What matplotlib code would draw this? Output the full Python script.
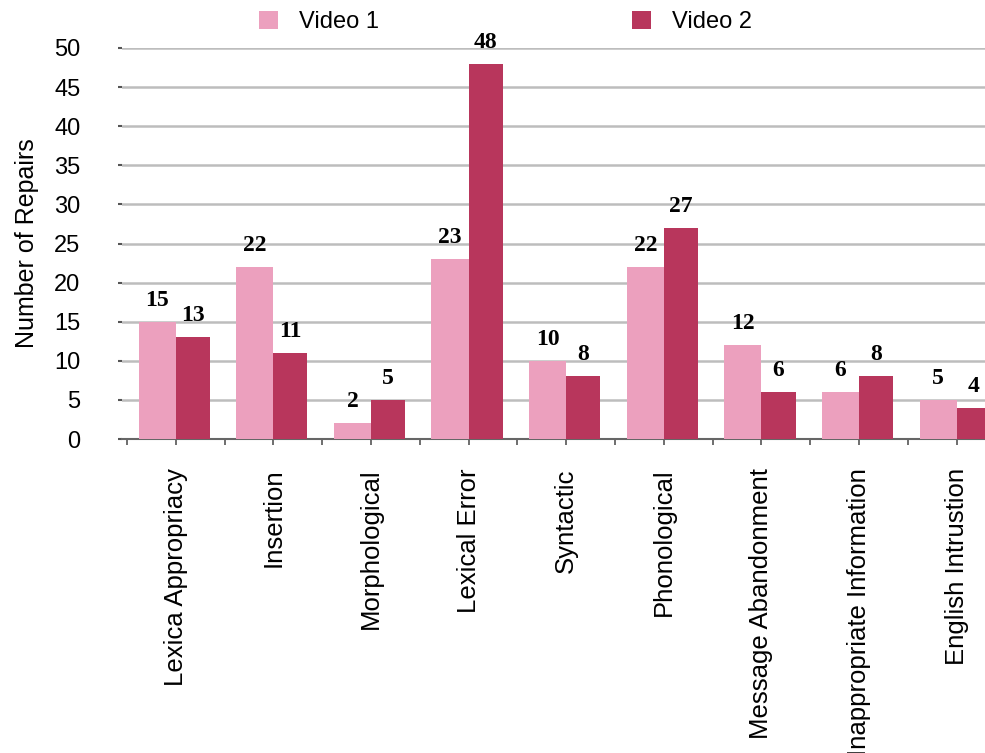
import numpy as np
import matplotlib.pyplot as plt

plt.rcParams['font.family'] = ['Liberation Sans', 'DejaVu Sans']

categories = ["Lexica Appropriacy", "Insertion", "Morphological", "Lexical Error",
              "Syntactic", "Phonological", "Message Abandonment",
              "Inappropriate Information", "English Intrustion"]
video1 = [15, 22, 2, 23, 10, 22, 12, 6, 5]
video2 = [13, 11, 5, 48, 8, 27, 6, 8, 4]

pink = "#eca0be"
red = "#b8365c"

fig = plt.figure(figsize=(9.85, 7.53), dpi=100)
ax = fig.add_axes([122 / 985, 314 / 753, 0.897, 391 / 753])

x = np.arange(len(categories))
w1, w2 = 0.38, 0.35
b1 = ax.bar(x - w1 / 2, video1, w1, color=pink, label="Video 1", zorder=3)
b2 = ax.bar(x + w2 / 2, video2, w2, color=red, label="Video 2", zorder=3)

for bars, vals in ((b1, video1), (b2, video2)):
    for r, v in zip(bars, vals):
        ax.text(r.get_x() + r.get_width() / 2, v + 1.4, str(v), ha="center", va="bottom",
                fontsize=17, fontweight="bold", family="Liberation Serif")

ax.set_xlim(-0.55, 8.5)
ax.set_ylim(0, 50)
ax.set_yticks(range(0, 51, 5))
ax.yaxis.grid(True, color="#bdbdbd", linewidth=1.8, zorder=0)
ax.tick_params(axis="y", labelsize=17, length=3, width=1.5, color="#555555", pad=27)

ax.set_xticks(x - 0.5)
ax.set_xticklabels([])
ax.set_xticks(x, minor=True)
ax.set_xticklabels(categories, minor=True, rotation=90, fontsize=18.5, va="top")
ax.tick_params(axis="x", which="both", length=4, width=1.2, color="#555555", direction="out")
ax.tick_params(axis="x", which="minor", pad=17)

for s in ("top", "right", "left"):
    ax.spines[s].set_visible(False)
ax.spines["bottom"].set_color("#666666")
ax.spines["bottom"].set_linewidth(1.5)

ax.set_ylabel("Number of Repairs", fontsize=18, labelpad=11)

fig.legend(handles=[b1, b2], loc="center", bbox_to_anchor=(0.513, 0.971), ncol=2, frameon=False,
           fontsize=17, handlelength=0.8, handleheight=0.8, columnspacing=10.7, handletextpad=0.9)

fig.savefig("out.png", dpi=100)
